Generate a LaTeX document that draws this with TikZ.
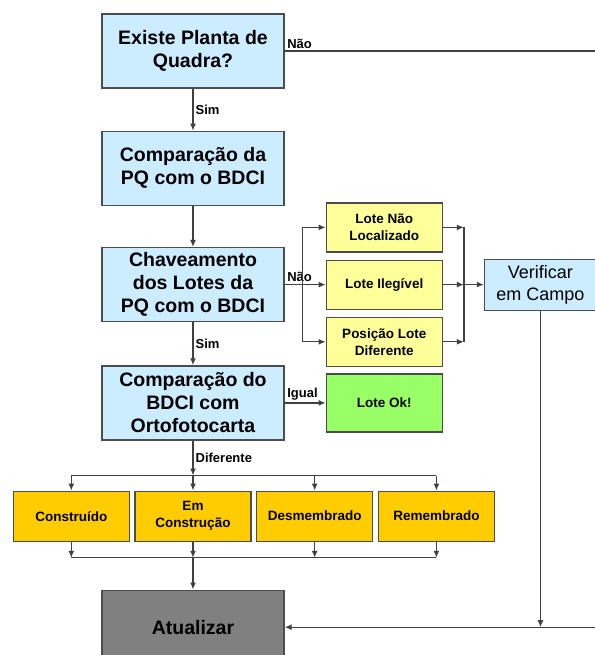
\documentclass[tikz,border=0pt]{standalone}
\usepackage{fontspec}
\setmainfont{Liberation Sans}
\usetikzlibrary{positioning, arrows.meta}
\definecolor{azulCaixa}{HTML}{CCECFF}
\definecolor{amareloCaixa}{HTML}{FFFF99}
\definecolor{laranjaCaixa}{HTML}{FFCC00}
\definecolor{verdeCaixa}{HTML}{99FF66}
\definecolor{cinzaCaixa}{HTML}{808080}
\tikzstyle{Etapa}=[rectangle, draw=black!70, fill=azulCaixa, line width=1.3pt, minimum width=182pt, minimum height=74pt, inner sep=2pt, align=center, font=\fontsize{19.5}{23}\selectfont\bfseries]
\tikzstyle{Ocorrencia}=[rectangle, draw=black!70, fill=amareloCaixa, line width=1.2pt, minimum width=116pt, minimum height=49pt, inner sep=2pt, align=center, font=\fontsize{13.5}{17}\selectfont\bfseries]
\tikzstyle{Situacao}=[Ocorrencia, fill=laranjaCaixa, minimum height=50pt]
\tikzstyle{Verifica}=[rectangle, draw=black!70, fill=azulCaixa, line width=1.2pt, minimum width=112pt, minimum height=51pt, inner sep=2pt, align=center, font=\fontsize{18}{22}\selectfont]
\tikzstyle{Rotulo}=[font=\fontsize{13}{15}\selectfont\bfseries, inner sep=2pt]
\tikzstyle{Linha}=[draw=black!75, line width=1.3pt]
\tikzstyle{Seta}=[Linha, -{Latex[length=7pt, width=6pt]}]

\begin{document}
\begin{tikzpicture}
			\useasboundingbox (0pt,0pt) rectangle (594pt,-655pt);
			%Nodos
			\node[Etapa]		(existe)		at (193pt,-51pt)				{Existe Planta de\\Quadra?};
			\node[Etapa]		(comparaPQ)		[below=42pt of existe]			{Comparação da\\PQ com o BDCI};
			\node[Etapa]		(chaveamento)	[below=41pt of comparaPQ]		{Chaveamento\\dos Lotes da\\PQ com o BDCI};
			\node[Etapa]		(comparaBDCI)	[below=43pt of chaveamento]		{Comparação do\\BDCI com\\Ortofotocarta};
			\node[Etapa, fill=cinzaCaixa]	(atualizar)	[below=149pt of comparaBDCI]	{Atualizar};

			\node[Ocorrencia]	(ilegivel)		[right=41pt of chaveamento]		{Lote Ilegível};
			\node[Ocorrencia]	(naoLocalizado)	[above=7pt of ilegivel]			{Lote Não\\Localizado};
			\node[Ocorrencia]	(posicao)		[below=7pt of ilegivel]			{Posição Lote\\Diferente};
			\node[Ocorrencia, fill=verdeCaixa, minimum height=58pt]	(loteOk)	[right=41pt of comparaBDCI]	{Lote Ok!};
			\node[Verifica]		(verificar)		[right=41pt of ilegivel]		{Verificar\\em Campo};

			\node[Situacao]		(emConstrucao)	[below=50pt of comparaBDCI]		{Em\\Construção};
			\node[Situacao]		(construido)	[left=4.5pt of emConstrucao]	{Construído};
			\node[Situacao]		(desmembrado)	[right=4.5pt of emConstrucao]	{Desmembrado};
			\node[Situacao]		(remembrado)	[right=4.5pt of desmembrado]	{Remembrado};

			%Conexoes
			\draw[Seta] (existe) -- node[Rotulo, right] {Sim} (comparaPQ);
			\draw[Seta] (comparaPQ) -- (chaveamento);
			\draw[Seta] (chaveamento) -- node[Rotulo, right] {Sim} (comparaBDCI);
			\draw[Seta] (comparaBDCI) -- node[Rotulo, pos=0, above right] {Igual} (loteOk);
			\draw[Seta] (existe.east) node[Rotulo, above right] {Não} -- ++(316pt,0) coordinate (cantoSup) |- (atualizar.east);
			\draw[Seta] (verificar.south) -- (verificar.south |- atualizar.east);

			\draw[Linha] (chaveamento.east) node[Rotulo, above right] {Não} -- ++(18pt,0) coordinate (divisao);
			\draw[Linha] (divisao |- naoLocalizado) -- (divisao |- posicao);
			\path (ilegivel.east) ++(21pt,0) coordinate (juncao);
			\draw[Linha] (juncao |- naoLocalizado) -- (juncao |- posicao);
			\foreach \lote in {naoLocalizado, ilegivel, posicao} {
				\draw[Seta] (divisao |- \lote) -- (\lote.west);
				\draw[Seta] (\lote.east) -- (juncao |- \lote);
			}
			\draw[Seta] (juncao) -- (verificar);

			\path (construido.north) ++(0,15pt) coordinate (barraSup);
			\path (construido.south) ++(0,-16pt) coordinate (barraInf);
			\draw[Seta] (comparaBDCI) -- node[Rotulo, right] {Diferente} (comparaBDCI |- barraSup);
			\draw[Linha] (construido |- barraSup) -- (remembrado |- barraSup);
			\draw[Linha] (construido |- barraInf) -- (remembrado |- barraInf);
			\foreach \sit in {construido, emConstrucao, desmembrado, remembrado} {
				\draw[Seta] (\sit |- barraSup) -- (\sit);
				\draw[Seta] (\sit) -- (\sit |- barraInf);
			}
			\draw[Seta] (emConstrucao |- barraInf) -- (atualizar);

		\end{tikzpicture}
\end{document}
